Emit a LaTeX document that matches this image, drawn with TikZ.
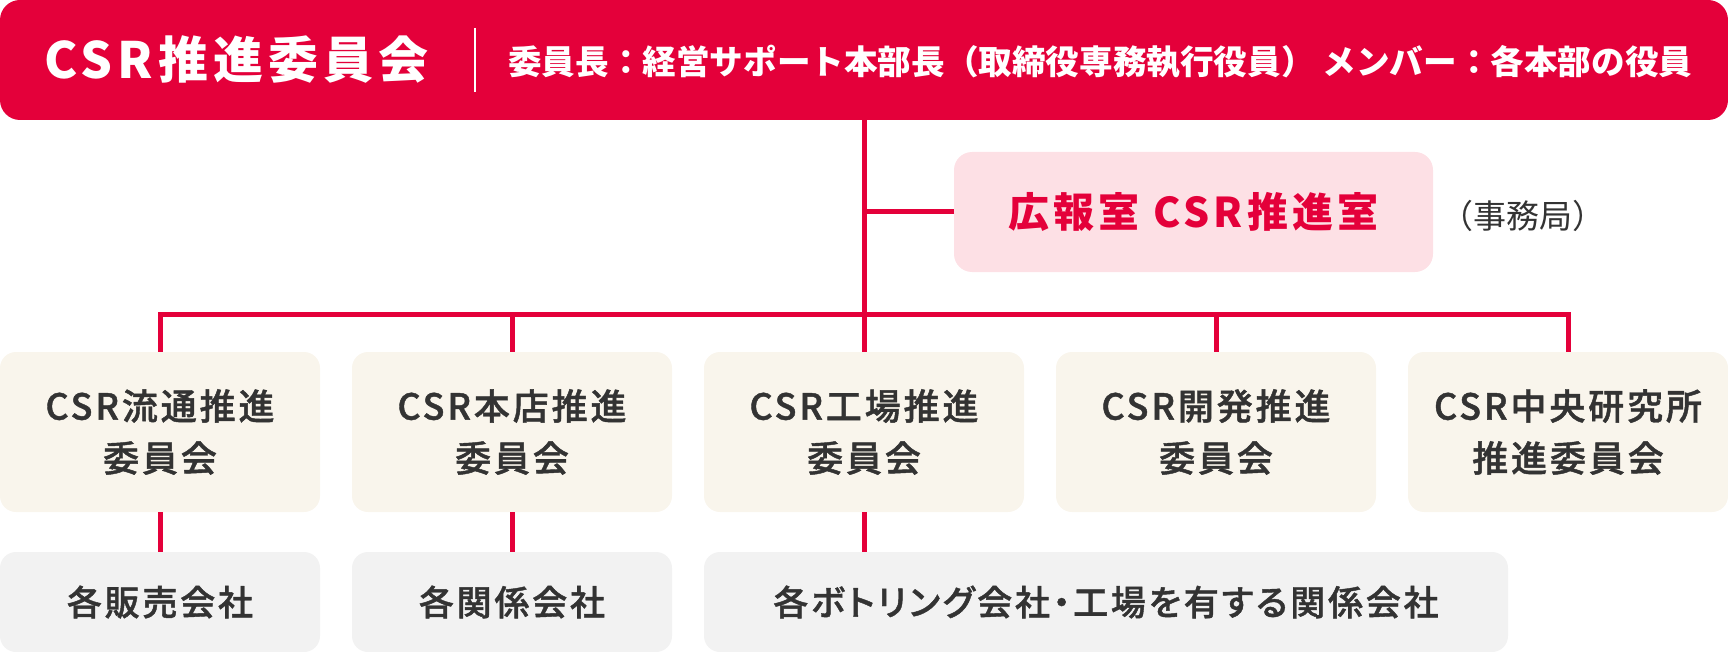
\documentclass[tikz,border=0pt]{standalone}
\usepackage{fontspec}
\setmainfont{Noto Sans CJK JP}
\newfontfamily\titlefont[LetterSpace=10]{Noto Sans CJK JP}
\newfontfamily\medfont[RawFeature=+palt, LetterSpace=8, FakeBold=1.2]{Noto Sans CJK JP Medium}
\usetikzlibrary{positioning}
\definecolor{csrred}{HTML}{E4003A}
\definecolor{officepink}{HTML}{FDE0E5}
\definecolor{committeebeige}{HTML}{F9F5EC}
\definecolor{companygray}{HTML}{F2F2F2}
\definecolor{textgray}{HTML}{333333}

\begin{document}
\begin{tikzpicture}[x=1pt,y=-1pt,
  headbox/.style={fill=csrred, rounded corners=20, inner sep=0, outer sep=0, minimum width=1728, minimum height=120},
  officebox/.style={fill=officepink, rounded corners=18, inner sep=0, outer sep=0, minimum width=479, minimum height=120,
    text=csrred, font=\fontsize{41}{50}\titlefont\bfseries},
  committeebox/.style={fill=committeebeige, rounded corners=16, inner sep=0, outer sep=0, minimum width=320, minimum height=160,
    align=center, text=textgray, font=\fontsize{36}{52}\medfont},
  companybox/.style={fill=companygray, rounded corners=16, inner sep=0, outer sep=0, minimum height=100,
    text=textgray, font=\fontsize{35}{44}\medfont},
  orgline/.style={draw=csrred, line width=5}]
\useasboundingbox (0,0) rectangle (1728,652);

% committee header
\node[headbox] (head) at (864,60) {};
\node[anchor=west, text=white, inner sep=0, font=\fontsize{50}{58}\titlefont\bfseries] (title) at (44,60) {CSR推進委員会};
\draw[white, line width=1.5] (475,28) -- (475,92);
\node[anchor=west, text=white, inner sep=0, font=\fontsize{33.6}{40}\selectfont\bfseries] (members) at (508,62)
  {委員長：経営サポート本部長（取締役専務執行役員）\hspace{8pt}メンバー：各本部の役員};

% secretariat
\node[officebox] (office) at (1193.5,212) {広報室 CSR推進室};
\node[text=textgray, inner sep=0, font=\fontsize{33}{40}\selectfont] (jimu) at (1523,216) {（事務局）};

% committees
\node[committeebox] (b1) at (160,432) {CSR流通推進\\委員会};
\node[committeebox] (b2) at (512,432) {CSR本店推進\\委員会};
\node[committeebox] (b3) at (864,432) {CSR工場推進\\委員会};
\node[committeebox] (b4) at (1216,432) {CSR開発推進\\委員会};
\node[committeebox] (b5) at (1568,432) {CSR中央研究所\\推進委員会};

% companies
\node[companybox, minimum width=320] (c1) at (160,602) {各販売会社};
\node[companybox, minimum width=320] (c2) at (512,602) {各関係会社};
\node[companybox, minimum width=804] (c3) at (1106,602) {各ボトリング会社・工場を有する関係会社};

% connectors
\coordinate (bus) at (864,314);
\draw[orgline] (head.south -| b3.north) -- (b3.north);
\draw[orgline] (office.west) -- (office.west -| b3.north);
\draw[orgline, line cap=rect] (b1.north |- bus) -- (b5.north |- bus);
\foreach \i in {1,2,4,5}
  \draw[orgline] (b\i.north |- bus) -- (b\i.north);
\draw[orgline] (b1.south) -- (c1.north);
\draw[orgline] (b2.south) -- (c2.north);
\draw[orgline] (b3.south) -- (b3.south |- c3.north);
\end{tikzpicture}
\end{document}
